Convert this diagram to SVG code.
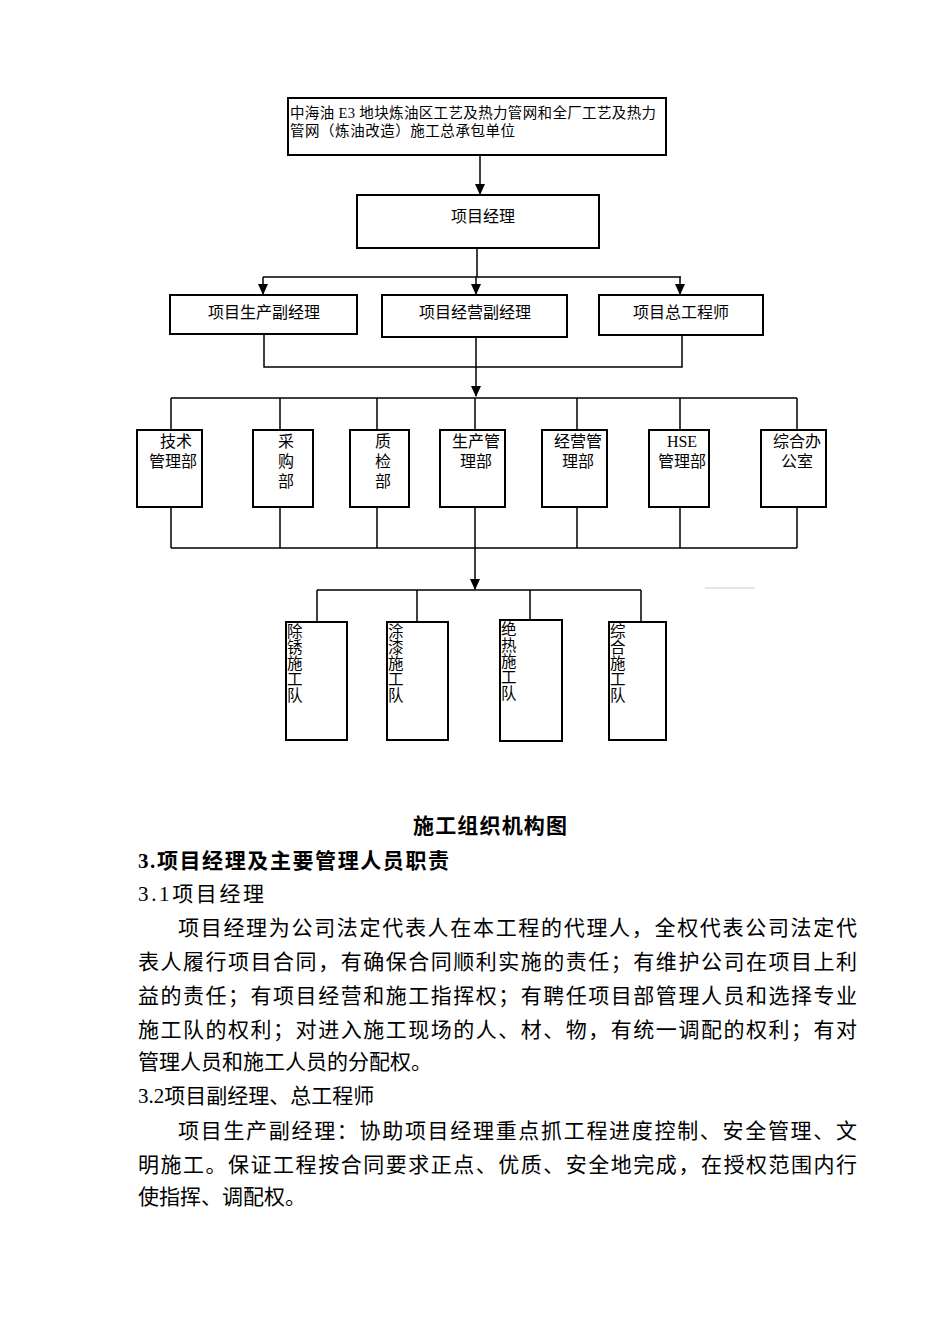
<svg xmlns="http://www.w3.org/2000/svg" width="950" height="1344" viewBox="0 0 950 1344">
<style>
.box{fill:#fff;stroke:#000;stroke-width:2}
.ln{fill:none;stroke:#000;stroke-width:1.5}
.t{font-family:"Liberation Serif","Noto Sans CJK SC",serif;fill:#000}
.s14{font-size:14.5px}
.s15{font-size:16px}
.s16{font-size:15.5px}
.p{font-size:21px}
.b{font-size:21px;font-weight:bold}
.c{text-anchor:middle}
</style>
<defs>
<marker id="ah" markerWidth="12" markerHeight="12" refX="10" refY="5" orient="auto" markerUnits="userSpaceOnUse">
<path d="M0,0 L11,5 L0,10 Z" fill="#000"/>
</marker>
</defs>
<rect width="950" height="1344" fill="#fff"/>

<g id="connectors">
<path class="ln" d="M480,155 V194" marker-end="url(#ah)"/>
<path class="ln" d="M477,248 V277 M263,277 H681"/>
<path class="ln" d="M263,277 V294" marker-end="url(#ah)"/>
<path class="ln" d="M476,277 V294" marker-end="url(#ah)"/>
<path class="ln" d="M680,277 V294" marker-end="url(#ah)"/>
<path class="ln" d="M264,334 V367 H682 V335"/>
<path class="ln" d="M476,337 V396" marker-end="url(#ah)"/>
<path class="ln" d="M171,398 H797 M171,398 V430 M280,398 V430 M377,398 V430 M475,398 V430 M577,398 V430 M680,398 V430 M797,398 V430"/>
<path class="ln" d="M171,507 V548 M280,507 V548 M377,507 V548 M475,507 V548 M577,507 V548 M680,507 V548 M797,507 V548 M171,548 H797"/>
<path class="ln" d="M475,548 V589" marker-end="url(#ah)"/>
<path class="ln" d="M317,590 H641 M317,590 V622 M417,590 V622 M530,590 V620 M641,590 V622"/>
<path d="M705,588 H755" stroke="#ccc" stroke-width="1"/>
</g>

<g id="n-top">
<rect class="box" x="288" y="98" width="378" height="57"/>
<text class="t s14" x="290" y="118" textLength="366" lengthAdjust="spacing">中海油 E3 地块炼油区工艺及热力管网和全厂工艺及热力</text>
<text class="t s14" x="290" y="136" textLength="225" lengthAdjust="spacing">管网（炼油改造）施工总承包单位</text>
</g>
<g id="n-pm">
<rect class="box" x="357" y="195" width="242" height="53"/>
<text class="t s15 c" x="483" y="222">项目经理</text>
</g>
<g id="n-vp1">
<rect class="box" x="170" y="295" width="187" height="39"/>
<text class="t s15 c" x="264" y="318">项目生产副经理</text>
</g>
<g id="n-vp2">
<rect class="box" x="382" y="295" width="185" height="42"/>
<text class="t s15 c" x="475" y="318">项目经营副经理</text>
</g>
<g id="n-ce">
<rect class="box" x="599" y="295" width="164" height="40"/>
<text class="t s15 c" x="681" y="318">项目总工程师</text>
</g>

<g id="n-d1">
<rect class="box" x="137" y="430" width="65" height="77"/>
<text class="t s15 c" x="176" y="447">技术</text>
<text class="t s15 c" x="173" y="467">管理部</text>
</g>
<g id="n-d2">
<rect class="box" x="253" y="430" width="60" height="77"/>
<text class="t s15 c" x="286" y="447">采</text>
<text class="t s15 c" x="286" y="467">购</text>
<text class="t s15 c" x="286" y="487">部</text>
</g>
<g id="n-d3">
<rect class="box" x="350" y="430" width="59" height="77"/>
<text class="t s15 c" x="383" y="447">质</text>
<text class="t s15 c" x="383" y="467">检</text>
<text class="t s15 c" x="383" y="487">部</text>
</g>
<g id="n-d4">
<rect class="box" x="440" y="430" width="65" height="77"/>
<text class="t s15 c" x="476" y="447">生产管</text>
<text class="t s15 c" x="476" y="467">理部</text>
</g>
<g id="n-d5">
<rect class="box" x="542" y="430" width="65" height="77"/>
<text class="t s15 c" x="578" y="447">经营管</text>
<text class="t s15 c" x="578" y="467">理部</text>
</g>
<g id="n-d6">
<rect class="box" x="649" y="430" width="60" height="77"/>
<text class="t s15 c" x="682" y="447">HSE</text>
<text class="t s15 c" x="682" y="467">管理部</text>
</g>
<g id="n-d7">
<rect class="box" x="761" y="430" width="65" height="77"/>
<text class="t s15 c" x="797" y="447">综合办</text>
<text class="t s15 c" x="797" y="467">公室</text>
</g>

<g id="n-t1">
<rect class="box" x="286" y="622" width="61" height="118"/>
<text class="t s16" x="287" y="637">除</text>
<text class="t s16" x="287" y="653">锈</text>
<text class="t s16" x="287" y="669">施</text>
<text class="t s16" x="287" y="685">工</text>
<text class="t s16" x="287" y="701">队</text>
</g>
<g id="n-t2">
<rect class="box" x="387" y="622" width="61" height="118"/>
<text class="t s16" x="388" y="637">涂</text>
<text class="t s16" x="388" y="653">漆</text>
<text class="t s16" x="388" y="669">施</text>
<text class="t s16" x="388" y="685">工</text>
<text class="t s16" x="388" y="701">队</text>
</g>
<g id="n-t3">
<rect class="box" x="500" y="620" width="62" height="121"/>
<text class="t s16" x="501" y="635">绝</text>
<text class="t s16" x="501" y="651">热</text>
<text class="t s16" x="501" y="667">施</text>
<text class="t s16" x="501" y="683">工</text>
<text class="t s16" x="501" y="699">队</text>
</g>
<g id="n-t4">
<rect class="box" x="609" y="622" width="57" height="118"/>
<text class="t s16" x="610" y="637">综</text>
<text class="t s16" x="610" y="653">合</text>
<text class="t s16" x="610" y="669">施</text>
<text class="t s16" x="610" y="685">工</text>
<text class="t s16" x="610" y="701">队</text>
</g>

<g id="body">
<text class="t b" x="413" y="833" textLength="154" lengthAdjust="spacing">施工组织机构图</text>
<text class="t b" x="138" y="868" textLength="311" lengthAdjust="spacing">3.项目经理及主要管理人员职责</text>
<text class="t p" x="138" y="901" textLength="126" lengthAdjust="spacing">3.1项目经理</text>
<text class="t p" x="178" y="935" textLength="679" lengthAdjust="spacing">项目经理为公司法定代表人在本工程的代理人，全权代表公司法定代</text>
<text class="t p" x="138" y="969" textLength="719" lengthAdjust="spacing">表人履行项目合同，有确保合同顺利实施的责任；有维护公司在项目上利</text>
<text class="t p" x="138" y="1003" textLength="719" lengthAdjust="spacing">益的责任；有项目经营和施工指挥权；有聘任项目部管理人员和选择专业</text>
<text class="t p" x="138" y="1037" textLength="719" lengthAdjust="spacing">施工队的权利；对进入施工现场的人、材、物，有统一调配的权利；有对</text>
<text class="t p" x="138" y="1069">管理人员和施工人员的分配权。</text>
<text class="t p" x="138" y="1103">3.2项目副经理、总工程师</text>
<text class="t p" x="178" y="1138" textLength="679" lengthAdjust="spacing">项目生产副经理：协助项目经理重点抓工程进度控制、安全管理、文</text>
<text class="t p" x="138" y="1172" textLength="719" lengthAdjust="spacing">明施工。保证工程按合同要求正点、优质、安全地完成，在授权范围内行</text>
<text class="t p" x="138" y="1204">使指挥、调配权。</text>
</g>
</svg>
